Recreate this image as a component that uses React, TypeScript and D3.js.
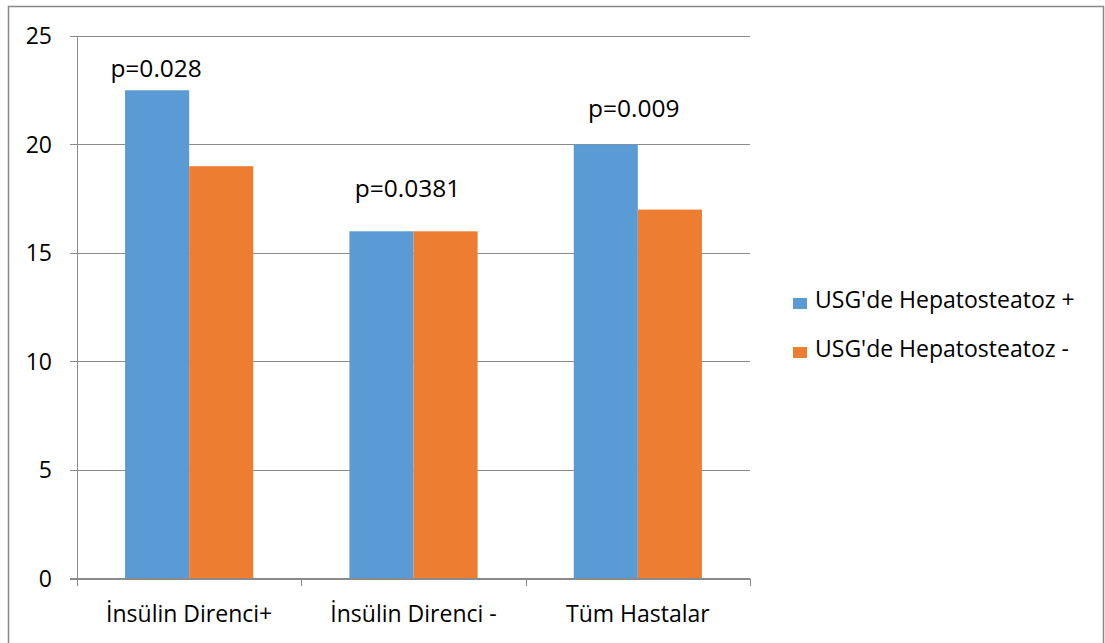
import React from "react";
import * as d3 from "d3";

// Categories and series
const categories = ["İnsülin Direnci+", "İnsülin Direnci -", "Tüm Hastalar"];
const seriesNames = ["USG'de Hepatosteatoz +", "USG'de Hepatosteatoz -"];
const hepatosteatozPlus = [22.5, 16, 20];
const hepatosteatozMinus = [19, 16, 17];
const yTicks = [0, 5, 10, 15, 20, 25];
const pLabels = ["p=0.028", "p=0.0381", "p=0.009"];
const pLabelValues = [23.1, 17.6, 21.25];

const colors = ["#5b9bd5", "#ed7d31"];

const W = 1105;
const H = 643;
const plot = { left: 77, right: 750, top: 36, bottom: 578.5 };
const FONT = "'Open Sans', sans-serif";
const FS = 23;

export default function App() {
  const x = d3
    .scaleBand<string>()
    .domain(categories)
    .range([plot.left, plot.right])
    .paddingInner(0)
    .paddingOuter(0);
  const bw = x.bandwidth() / 3.5;
  const xs = d3
    .scaleBand<number>()
    .domain([0, 1])
    .range([x.bandwidth() / 2 - bw, x.bandwidth() / 2 + bw])
    .padding(0);
  const y = d3.scaleLinear().domain([0, 25]).range([plot.bottom, plot.top]);
  const series = [hepatosteatozPlus, hepatosteatozMinus];
  // horizontal shift of each p-value label from the centre of its first bar
  const labelOffsets = [-1, 26, 28];
  const grid = "#8a8a8a";

  return (
    <div style={{ position: "absolute", left: 0, top: 0 }}>
      <svg width={W} height={H} style={{ display: "block", fontFamily: FONT }}>
        <rect x={0} y={0} width={W} height={H} fill="#fff" />
        <rect x={8.5} y={6.5} width={1095} height={660} fill="#fff" stroke="#888" strokeWidth={1.5} />
        {/* gridlines and y ticks */}
        {yTicks.map((t) => (
          <g key={t}>
            <line x1={plot.left - 7} x2={plot.right} y1={Math.round(y(t)) + 0.5} y2={Math.round(y(t)) + 0.5} stroke={grid} strokeWidth={1} />
            <text x={52} y={y(t)} dy="0.35em" textAnchor="end" fontSize={FS} fill="#000">
              {t}
            </text>
          </g>
        ))}
        {/* bars */}
        {categories.map((c, i) =>
          series.map((s, j) => (
            <rect
              key={c + j}
              x={(x(c) as number) + (xs(j) as number)}
              y={y(s[i])}
              width={xs.bandwidth()}
              height={y(0) - y(s[i])}
              fill={colors[j]}
            />
          ))
        )}
        {/* axes */}
        <line x1={plot.left + 0.5} x2={plot.left + 0.5} y1={plot.top} y2={plot.bottom} stroke={grid} strokeWidth={1} />
        <line x1={plot.left - 7} x2={plot.right} y1={578.5} y2={578.5} stroke={grid} strokeWidth={1} />
        {[...categories.map((c) => x(c) as number), plot.right].map((v, i) => (
          <line key={i} x1={Math.round(v) + 0.5} x2={Math.round(v) + 0.5} y1={578.5} y2={586} stroke={grid} strokeWidth={1} />
        ))}
        {categories.map((c) => (
          <text key={c} x={(x(c) as number) + x.bandwidth() / 2} y={622} textAnchor="middle" fontSize={FS} fill="#000">
            {c}
          </text>
        ))}
        {/* p-value annotations */}
        {categories.map((c, i) => (
          <text
            key={"p" + c}
            x={(x(c) as number) + (xs(0) as number) + xs.bandwidth() / 2 + labelOffsets[i]}
            y={y(pLabelValues[i])}
            textAnchor="middle"
            fontSize={24.5}
            fill="#000"
          >
            {pLabels[i]}
          </text>
        ))}
        {/* legend */}
        {seriesNames.map((n, j) => (
          <g key={n} transform={`translate(793, ${298 + j * 49})`}>
            <rect x={0} y={0} width={14} height={11} fill={colors[j]} />
            <text x={22} y={10} fontSize={FS} fill="#000">
              {n}
            </text>
          </g>
        ))}
      </svg>
    </div>
  );
}
